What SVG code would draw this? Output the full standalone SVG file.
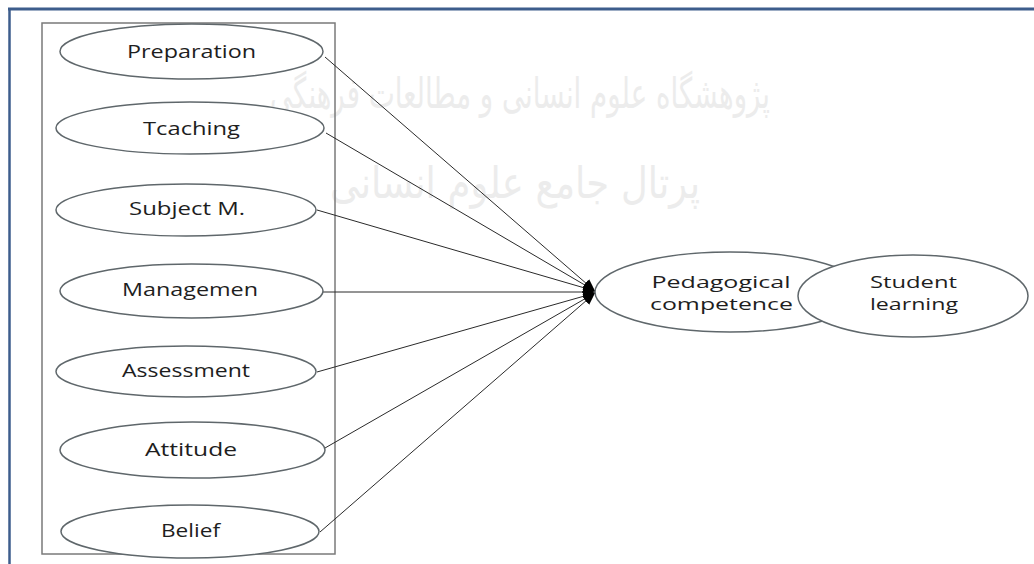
<svg xmlns="http://www.w3.org/2000/svg" width="1034" height="564" viewBox="0 0 1034 564">
  <style>
    .wm { font-family: "DejaVu Sans", sans-serif; fill: #ececec; }
    .node ellipse { fill: #ffffff; stroke: #5f676b; stroke-width: 1.5; }
    .lbl { font-family: "Open Sans", "Liberation Sans", sans-serif; font-size: 18px; fill: #1e1e1e; text-anchor: middle; }
    .lbl2 { font-family: "Open Sans", "Liberation Sans", sans-serif; font-size: 16px; fill: #1e1e1e; text-anchor: middle; }
    .conn line { stroke: #2a2a2a; stroke-width: 1; }
  </style>
  <defs>
    <marker id="arr" markerUnits="userSpaceOnUse" markerWidth="14" markerHeight="12" refX="12" refY="6" orient="auto">
      <path d="M0,1 L12,6 L0,11 z" fill="#000000"/>
    </marker>
  </defs>
  <rect x="0" y="0" width="1034" height="564" fill="#ffffff"/>

  <!-- watermark -->
  <g id="watermark">
    <text class="wm" x="520" y="108" font-size="42" text-anchor="middle" textLength="500" lengthAdjust="spacingAndGlyphs">پژوهشگاه علوم انسانی و مطالعات فرهنگی</text>
    <text class="wm" x="515" y="198" font-size="44" text-anchor="middle" textLength="370" lengthAdjust="spacingAndGlyphs">پرتال جامع علوم انسانی</text>
  </g>

  <!-- page frame -->
  <g id="frame">
    <line x1="8" y1="9" x2="1034" y2="9" stroke="#3d5d8c" stroke-width="3"/>
    <line x1="9.5" y1="8" x2="9.5" y2="564" stroke="#3d5d8c" stroke-width="2.5"/>
  </g>

  <!-- group box -->
  <g id="group-box">
    <rect x="42" y="23" width="293" height="531" fill="none" stroke="#7a7a7a" stroke-width="1.5"/>
  </g>

  <!-- connectors -->
  <g id="connectors" class="conn">
    <line x1="325" y1="57" x2="595" y2="291" marker-end="url(#arr)"/>
    <line x1="326" y1="133" x2="595" y2="291" marker-end="url(#arr)"/>
    <line x1="317" y1="210" x2="595" y2="291" marker-end="url(#arr)"/>
    <line x1="323" y1="292" x2="595" y2="292" marker-end="url(#arr)"/>
    <line x1="317" y1="372" x2="595" y2="293" marker-end="url(#arr)"/>
    <line x1="325" y1="448" x2="595" y2="293" marker-end="url(#arr)"/>
    <line x1="320" y1="532" x2="595" y2="293" marker-end="url(#arr)"/>
  </g>

  <g id="preparation" class="node">
    <ellipse cx="191.5" cy="51.5" rx="131.5" ry="27.5"/>
    <text class="lbl" x="191.5" y="57.5" textLength="129" lengthAdjust="spacingAndGlyphs">Preparation</text>
  </g>
  <g id="teaching" class="node">
    <ellipse cx="190" cy="128" rx="134" ry="26"/>
    <text class="lbl" x="191.5" y="135" textLength="97" lengthAdjust="spacingAndGlyphs">Tcaching</text>
  </g>
  <g id="subject" class="node">
    <ellipse cx="186" cy="210" rx="130" ry="26"/>
    <text class="lbl" x="187" y="214.5" textLength="116" lengthAdjust="spacingAndGlyphs">Subject M.</text>
  </g>
  <g id="management" class="node">
    <ellipse cx="191.5" cy="291" rx="131.5" ry="27"/>
    <text class="lbl" x="190" y="296" textLength="136" lengthAdjust="spacingAndGlyphs">Managemen</text>
  </g>
  <g id="assessment" class="node">
    <ellipse cx="186" cy="371.5" rx="130" ry="25.5"/>
    <text class="lbl" x="186" y="376.5" textLength="128" lengthAdjust="spacingAndGlyphs">Assessment</text>
  </g>
  <g id="attitude" class="node">
    <ellipse cx="192.5" cy="450" rx="132.5" ry="28"/>
    <text class="lbl" x="191" y="455.5" textLength="92" lengthAdjust="spacingAndGlyphs">Attitude</text>
  </g>
  <g id="belief" class="node">
    <ellipse cx="190" cy="531.5" rx="129" ry="26.5"/>
    <text class="lbl" x="190.5" y="536.5" textLength="59" lengthAdjust="spacingAndGlyphs">Belief</text>
  </g>

  <g id="pedagogical" class="node">
    <ellipse cx="730" cy="292" rx="135" ry="40"/>
    <text class="lbl2" x="721" y="288" textLength="139" lengthAdjust="spacingAndGlyphs">Pedagogical</text>
    <text class="lbl2" x="721.5" y="310" textLength="143" lengthAdjust="spacingAndGlyphs">competence</text>
  </g>
  <g id="student" class="node">
    <ellipse cx="913" cy="296" rx="115" ry="41"/>
    <text class="lbl2" x="913.5" y="288" textLength="87" lengthAdjust="spacingAndGlyphs">Student</text>
    <text class="lbl2" x="914" y="310" textLength="88" lengthAdjust="spacingAndGlyphs">learning</text>
  </g>
</svg>
